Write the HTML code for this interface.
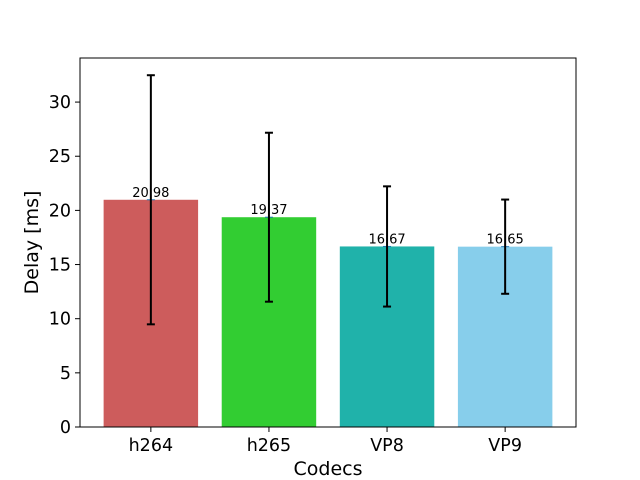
<!DOCTYPE html>
<html><head><meta charset="utf-8"><style>
html,body{margin:0;padding:0;background:#fff;}
svg{display:block;font-family:"DejaVu Sans","Liberation Sans",sans-serif;}
</style></head><body>
<svg id="chart" width="640" height="480" viewBox="0 0 640 480">
<rect width="640" height="480" fill="#fff"/>
<g id="plot"></g>
</svg>
<script>
const categories = ["h264","h265","VP8","VP9"];
const values = [20.98,19.37,16.67,16.65];
const errors = [11.5,7.8,5.55,4.35];
const colors = ["#cd5c5c","#32cd32","#20b2aa","#87ceeb"];
const yTicks = [0,5,10,15,20,25,30];

const L=80,R=576,T=58,B=427;
const yMax=34.07;
const xMin=-0.6,xMax=3.6;
const sx=v=>L+(v-xMin)/(xMax-xMin)*(R-L);
const sy=v=>B-v/yMax*(B-T);
const NS="http://www.w3.org/2000/svg";
const g=document.getElementById('plot');
function mk(tag,attrs,parent){const e=document.createElementNS(NS,tag);for(const k in attrs)e.setAttribute(k,attrs[k]);(parent||g).appendChild(e);return e;}

categories.forEach((c,i)=>{
  const w=0.8*(R-L)/(xMax-xMin);
  const cx=sx(i);
  const r=mk('rect',{x:cx-w/2,y:sy(values[i]),width:w,height:B-sy(values[i]),fill:colors[i]});
  
  
  const m=mk('line',{x1:cx-4,x2:cx+4,y1:sy(values[i]),y2:sy(values[i]),stroke:'#1f77b4','stroke-width':1});
  
  
  const eg=mk('g',{stroke:'#000','stroke-width':2});
  
  
  const lo=sy(values[i]-errors[i]),hi=sy(values[i]+errors[i]);
  mk('line',{x1:cx,x2:cx,y1:lo,y2:hi},eg);
  mk('line',{x1:cx-4,x2:cx+4,y1:lo,y2:lo},eg);
  mk('line',{x1:cx-4,x2:cx+4,y1:hi,y2:hi},eg);
  const t=mk('text',{x:cx,y:sy(values[i])-3,'text-anchor':'middle','font-size':13,fill:'#000'});
  t.textContent=values[i].toFixed(2);
  
  
  const tk=mk('line',{x1:cx,x2:cx,y1:B,y2:B+5,stroke:'#000','stroke-width':1});
  
  
  const tl=mk('text',{x:cx,y:B+24,'text-anchor':'middle','font-size':17.5,fill:'#000'});
  tl.textContent=c;
  
  
});
yTicks.forEach(v=>{
  const y=sy(v);
  const tk=mk('line',{x1:L-5,x2:L,y1:y,y2:y,stroke:'#000','stroke-width':1});
  
  
  const tl=mk('text',{x:L-9,y:y+6,'text-anchor':'end','font-size':17.5,fill:'#000'});
  tl.textContent=v;
  
  
});
const fr=mk('rect',{x:L,y:T,width:R-L,height:B-T,fill:'none',stroke:'#000','stroke-width':1});


const xt=mk('text',{x:(L+R)/2,y:475,'text-anchor':'middle','font-size':19,fill:'#000'});
xt.textContent='Codecs';


const yt=mk('text',{x:0,y:0,'text-anchor':'middle','font-size':19,fill:'#000',transform:`translate(38,${(T+B)/2}) rotate(-90)`});
yt.textContent='Delay [ms]';


</script>
</body></html>
